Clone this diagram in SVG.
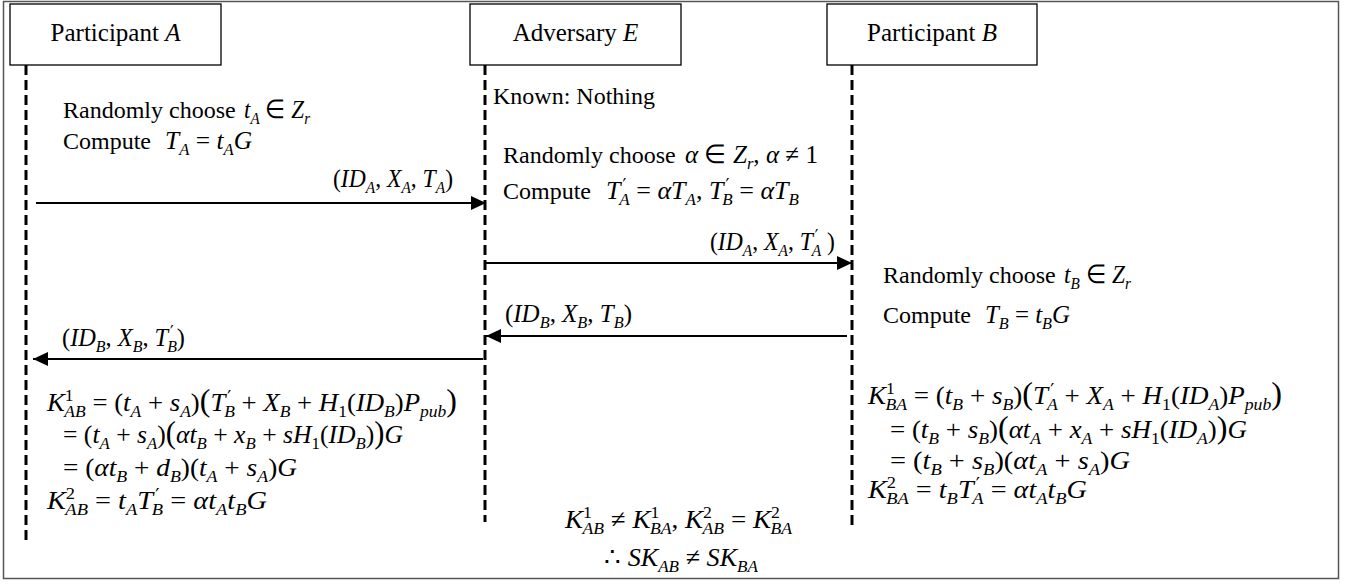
<svg xmlns="http://www.w3.org/2000/svg" width="1355" height="586" viewBox="0 0 1355 586">
<style>
.t{font-family:"Liberation Serif","Times New Roman",serif;font-size:24px;fill:#000}
.h{font-family:"Liberation Serif","Times New Roman",serif;font-size:25px;fill:#000}
.m{font-family:"Liberation Serif","Times New Roman",serif;font-size:26px;font-style:italic;fill:#000}
.u{font-style:normal}
.sb{font-size:17px;baseline-shift:-6px}
.sp{font-size:17px;baseline-shift:10px}
.pr{font-family:"DejaVu Sans",sans-serif;font-size:17px;font-style:normal;baseline-shift:8px}
.bp{font-size:31px;font-style:normal}
.box{fill:#fff;stroke:#000;stroke-width:1.3}
.life{fill:none;stroke:#000;stroke-width:3;stroke-dasharray:10 5}
.msg{fill:none;stroke:#000;stroke-width:2;marker-end:url(#ah)}
</style>
<defs>
<marker id="ah" markerWidth="16" markerHeight="14" refX="15" refY="7" orient="auto" markerUnits="userSpaceOnUse"><path d="M0,0 L15,7 L0,14 z" fill="#000"/></marker>
</defs>
<rect x="0" y="0" width="1355" height="586" fill="#fff"/>
<rect x="3.5" y="1.5" width="1335" height="577" fill="none" stroke="#555" stroke-width="1.5"/>

<g id="lifelines">
<path class="life" d="M26,65 V540"/>
<path class="life" d="M485,65 V522"/>
<path class="life" d="M852,65 V530"/>
</g>

<g id="node-A">
<rect class="box" x="10" y="4" width="211" height="61"/>
<text class="h" x="115.5" y="41" text-anchor="middle">Participant <tspan font-style="italic">A</tspan></text>
</g>
<g id="node-E">
<rect class="box" x="470" y="4" width="211" height="61"/>
<text class="h" x="575.5" y="41" text-anchor="middle">Adversary <tspan font-style="italic">E</tspan></text>
</g>
<g id="node-B">
<rect class="box" x="827" y="4" width="210" height="61"/>
<text class="h" x="932" y="41" text-anchor="middle">Participant <tspan font-style="italic">B</tspan></text>
</g>

<g id="connectors">
<path class="msg" d="M36,203 H486"/>
<path class="msg" d="M485,263 H852"/>
<path class="msg" d="M847,336 H486"/>
<path class="msg" d="M483,359 H33"/>
</g>

<g id="labels">
<text class="m" x="333" y="187" textLength="120" lengthAdjust="spacingAndGlyphs"><tspan class="u">(</tspan>ID<tspan class="sb">A</tspan><tspan class="u">, </tspan>X<tspan class="sb">A</tspan><tspan class="u">, </tspan>T<tspan class="sb">A</tspan><tspan class="u">)</tspan></text>
<text class="m" x="710" y="250" textLength="125" lengthAdjust="spacingAndGlyphs"><tspan class="u">(</tspan>ID<tspan class="sb">A</tspan><tspan class="u">, </tspan>X<tspan class="sb">A</tspan><tspan class="u">, </tspan>T<tspan class="pr" dx="2">′</tspan><tspan class="sb" dx="-7">A</tspan><tspan class="u"> )</tspan></text>
<text class="m" x="505" y="322" textLength="127" lengthAdjust="spacingAndGlyphs"><tspan class="u">(</tspan>ID<tspan class="sb">B</tspan><tspan class="u">, </tspan>X<tspan class="sb">B</tspan><tspan class="u">, </tspan>T<tspan class="sb">B</tspan><tspan class="u">)</tspan></text>
<text class="m" x="62" y="346" textLength="123" lengthAdjust="spacingAndGlyphs"><tspan class="u">(</tspan>ID<tspan class="sb">B</tspan><tspan class="u">, </tspan>X<tspan class="sb">B</tspan><tspan class="u">, </tspan>T<tspan class="pr" dx="2">′</tspan><tspan class="sb" dx="-7">B</tspan><tspan class="u">)</tspan></text>
</g>

<g id="steps-A">
<text class="t" x="63" y="118">Randomly choose</text>
<text class="m" x="244" y="118" textLength="66" lengthAdjust="spacingAndGlyphs">t<tspan class="sb">A</tspan><tspan class="u"> ∈ </tspan>Z<tspan class="sb">r</tspan></text>
<text class="t" x="63" y="149">Compute</text>
<text class="m" x="165" y="149" textLength="87" lengthAdjust="spacingAndGlyphs">T<tspan class="sb">A</tspan><tspan class="u"> = </tspan>t<tspan class="sb">A</tspan>G</text>
<text class="m" x="47" y="411" textLength="410" lengthAdjust="spacingAndGlyphs">K<tspan class="sp u">1</tspan><tspan class="sb" dx="-9">AB</tspan><tspan class="u"> = (</tspan>t<tspan class="sb">A</tspan><tspan class="u"> + </tspan>s<tspan class="sb">A</tspan><tspan class="u">)</tspan><tspan class="bp">(</tspan>T<tspan class="pr" dx="2">′</tspan><tspan class="sb" dx="-7">B</tspan><tspan class="u"> + </tspan>X<tspan class="sb">B</tspan><tspan class="u"> + </tspan>H<tspan class="sb u">1</tspan><tspan class="u">(</tspan>ID<tspan class="sb">B</tspan><tspan class="u">)</tspan>P<tspan class="sb">pub</tspan><tspan class="bp">)</tspan></text>
<text class="m" x="63" y="443" textLength="340" lengthAdjust="spacingAndGlyphs"><tspan class="u">= (</tspan>t<tspan class="sb">A</tspan><tspan class="u"> + </tspan>s<tspan class="sb">A</tspan><tspan class="u">)</tspan><tspan class="bp">(</tspan>αt<tspan class="sb">B</tspan><tspan class="u"> + </tspan>x<tspan class="sb">B</tspan><tspan class="u"> + </tspan>sH<tspan class="sb u">1</tspan><tspan class="u">(</tspan>ID<tspan class="sb">B</tspan><tspan class="u">)</tspan><tspan class="bp">)</tspan>G</text>
<text class="m" x="63" y="476" textLength="234" lengthAdjust="spacingAndGlyphs"><tspan class="u">= (</tspan>αt<tspan class="sb">B</tspan><tspan class="u"> + </tspan>d<tspan class="sb">B</tspan><tspan class="u">)(</tspan>t<tspan class="sb">A</tspan><tspan class="u"> + </tspan>s<tspan class="sb">A</tspan><tspan class="u">)</tspan>G</text>
<text class="m" x="47" y="509" textLength="220" lengthAdjust="spacingAndGlyphs">K<tspan class="sp u">2</tspan><tspan class="sb" dx="-9">AB</tspan><tspan class="u"> = </tspan>t<tspan class="sb">A</tspan>T<tspan class="pr" dx="2">′</tspan><tspan class="sb" dx="-7">B</tspan><tspan class="u"> = </tspan>αt<tspan class="sb">A</tspan>t<tspan class="sb">B</tspan>G</text>
</g>

<g id="steps-E">
<text class="t" x="493" y="104">Known: Nothing</text>
<text class="t" x="503" y="163">Randomly choose</text>
<text class="m" x="685" y="163" textLength="133" lengthAdjust="spacingAndGlyphs">α<tspan class="u"> ∈ </tspan>Z<tspan class="sb">r</tspan><tspan class="u">, </tspan>α<tspan class="u"> ≠ 1</tspan></text>
<text class="t" x="503" y="199">Compute</text>
<text class="m" x="606" y="199" textLength="193" lengthAdjust="spacingAndGlyphs">T<tspan class="pr" dx="2">′</tspan><tspan class="sb" dx="-7">A</tspan><tspan class="u"> = </tspan>αT<tspan class="sb">A</tspan><tspan class="u">, </tspan>T<tspan class="pr" dx="2">′</tspan><tspan class="sb" dx="-7">B</tspan><tspan class="u"> = </tspan>αT<tspan class="sb">B</tspan></text>
<text class="m" x="565" y="528" textLength="227" lengthAdjust="spacingAndGlyphs">K<tspan class="sp u">1</tspan><tspan class="sb" dx="-9">AB</tspan><tspan class="u"> ≠ </tspan>K<tspan class="sp u">1</tspan><tspan class="sb" dx="-9">BA</tspan><tspan class="u">, </tspan>K<tspan class="sp u">2</tspan><tspan class="sb" dx="-9">AB</tspan><tspan class="u"> = </tspan>K<tspan class="sp u">2</tspan><tspan class="sb" dx="-9">BA</tspan></text>
<text class="m" x="604" y="566" textLength="154" lengthAdjust="spacingAndGlyphs"><tspan class="u">∴ </tspan>SK<tspan class="sb">AB</tspan><tspan class="u"> ≠ </tspan>SK<tspan class="sb">BA</tspan></text>
</g>

<g id="steps-B">
<text class="t" x="883" y="283">Randomly choose</text>
<text class="m" x="1064" y="283" textLength="67" lengthAdjust="spacingAndGlyphs">t<tspan class="sb">B</tspan><tspan class="u"> ∈ </tspan>Z<tspan class="sb">r</tspan></text>
<text class="t" x="883" y="323">Compute</text>
<text class="m" x="985" y="323" textLength="85" lengthAdjust="spacingAndGlyphs">T<tspan class="sb">B</tspan><tspan class="u"> = </tspan>t<tspan class="sb">B</tspan>G</text>
<text class="m" x="868" y="404" textLength="414" lengthAdjust="spacingAndGlyphs">K<tspan class="sp u">1</tspan><tspan class="sb" dx="-9">BA</tspan><tspan class="u"> = (</tspan>t<tspan class="sb">B</tspan><tspan class="u"> + </tspan>s<tspan class="sb">B</tspan><tspan class="u">)</tspan><tspan class="bp">(</tspan>T<tspan class="pr" dx="2">′</tspan><tspan class="sb" dx="-7">A</tspan><tspan class="u"> +  </tspan>X<tspan class="sb">A</tspan><tspan class="u"> + </tspan>H<tspan class="sb u">1</tspan><tspan class="u">(</tspan>ID<tspan class="sb">A</tspan><tspan class="u">)</tspan>P<tspan class="sb">pub</tspan><tspan class="bp">)</tspan></text>
<text class="m" x="890" y="438" textLength="357" lengthAdjust="spacingAndGlyphs"><tspan class="u">= (</tspan>t<tspan class="sb">B</tspan><tspan class="u"> + </tspan>s<tspan class="sb">B</tspan><tspan class="u">)</tspan><tspan class="bp">(</tspan>αt<tspan class="sb">A</tspan><tspan class="u"> + </tspan>x<tspan class="sb">A</tspan><tspan class="u"> + </tspan>sH<tspan class="sb u">1</tspan><tspan class="u">(</tspan>ID<tspan class="sb">A</tspan><tspan class="u">)</tspan><tspan class="bp">)</tspan>G</text>
<text class="m" x="890" y="469" textLength="240" lengthAdjust="spacingAndGlyphs"><tspan class="u">= (</tspan>t<tspan class="sb">B</tspan><tspan class="u"> + </tspan>s<tspan class="sb">B</tspan><tspan class="u">)(</tspan>αt<tspan class="sb">A</tspan><tspan class="u"> + </tspan>s<tspan class="sb">A</tspan><tspan class="u">)</tspan>G</text>
<text class="m" x="868" y="498" textLength="219" lengthAdjust="spacingAndGlyphs">K<tspan class="sp u">2</tspan><tspan class="sb" dx="-9">BA</tspan><tspan class="u"> = </tspan>t<tspan class="sb">B</tspan>T<tspan class="pr" dx="2">′</tspan><tspan class="sb" dx="-7">A</tspan><tspan class="u"> = </tspan>αt<tspan class="sb">A</tspan>t<tspan class="sb">B</tspan>G</text>
</g>
</svg>
